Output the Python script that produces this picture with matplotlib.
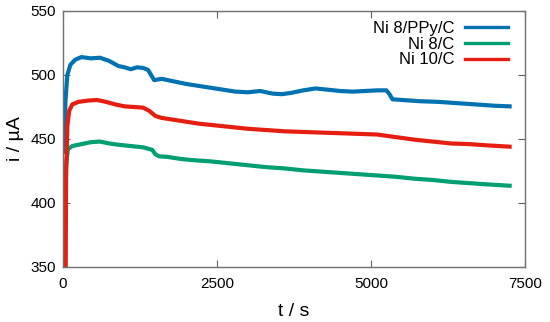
import matplotlib
matplotlib.use("Agg")
import matplotlib.pyplot as plt

plt.rcParams['font.family'] = ['Liberation Sans', 'DejaVu Sans']

# Ni 8/PPy/C
t_blue = [20, 40, 70, 120, 200, 300, 450, 600, 750, 900, 1000, 1100, 1200, 1300, 1380, 1430, 1480,
          1600, 1800, 2000, 2200, 2400, 2600, 2800, 3000, 3200, 3400, 3550, 3700, 3900, 4100, 4300,
          4500, 4700, 4900, 5100, 5250, 5300, 5350, 5500, 5800, 6100, 6400, 6700, 7000, 7250]
i_blue = [440, 480, 500, 508, 512, 514, 513, 513.5, 511, 507, 506, 504.5, 506, 505.5, 504, 500, 496,
          497, 495, 493, 491.5, 490, 488.5, 487, 486.5, 487.5, 485.5, 485, 486, 488, 489.5, 488.5,
          487.5, 487, 487.5, 488, 488, 485, 481, 480.5, 479.5, 479, 478, 477, 476, 475.5]

# Ni 8/C
t_green = [30, 50, 80, 150, 300, 450, 600, 750, 900, 1100, 1300, 1450, 1500, 1560, 1700, 1900, 2100,
           2400, 2700, 3000, 3300, 3600, 3900, 4200, 4500, 4800, 5100, 5400, 5700, 6000, 6300, 6600,
           6900, 7250]
i_green = [400, 430, 442, 444.5, 446, 447.5, 448, 446.5, 445.5, 444.5, 443.5, 441.5, 438, 436.5, 436,
           434.5, 433.5, 432.5, 431, 429.5, 428, 427, 425.5, 424.5, 423.5, 422.5, 421.5, 420.5, 419,
           418, 416.5, 415.5, 414.5, 413.5]

# Ni 10/C
t_red = [40, 50, 70, 100, 150, 250, 400, 550, 700, 850, 1000, 1150, 1300, 1400, 1500, 1600, 1800,
         2000, 2200, 2400, 2700, 3000, 3300, 3600, 3900, 4200, 4500, 4800, 5100, 5400, 5700, 6000,
         6300, 6600, 6900, 7250]
i_red = [300, 420, 460, 472, 477, 479, 480, 480.5, 479, 477, 475.5, 475, 474.5, 472, 468, 466.5, 465,
         463.5, 462, 461, 459.5, 458, 457, 456, 455.5, 455, 454.5, 454, 453.5, 451.5, 449.5, 448,
         446.5, 446, 445, 444]

labels = ['Ni 8/PPy/C', 'Ni 8/C', 'Ni 10/C']
colors = ['#0072b2', '#009e73', '#e51e10']
x_ticks = [0, 2500, 5000, 7500]
y_ticks = [350, 400, 450, 500, 550]

fig = plt.figure(figsize=(5.5, 3.22), dpi=100)
ax = fig.add_axes([63/550, 55/322, 462/550, 256/322])

ax.plot(t_blue, i_blue, color=colors[0], lw=3, label=labels[0])
ax.plot(t_green, i_green, color=colors[1], lw=3, label=labels[1])
ax.plot(t_red, i_red, color=colors[2], lw=3, label=labels[2])

ax.set_xlim(0, 7500)
ax.set_ylim(350, 550)
ax.set_xticks(x_ticks)
ax.set_yticks(y_ticks)
ax.tick_params(direction='in', length=5, width=0.8, color='#606060', top=True, right=True,
               labelsize=11)
ax.tick_params(axis='x', pad=7)
ax.tick_params(axis='y', pad=5)
for s in ax.spines.values():
    s.set_color('#707070')
    s.set_linewidth(1.0)

ax.set_xlabel('t / s', fontsize=14, labelpad=8.5)
ax.set_ylabel('i / µA', fontsize=14, labelpad=4.5)

leg = ax.legend(loc='upper right', bbox_to_anchor=(0.963, 0.962), frameon=False, markerfirst=False,
                fontsize=12, handlelength=2.6, handletextpad=0.6, labelspacing=0.05,
                borderpad=0, borderaxespad=0)
for h in leg.get_lines():
    h.set_linewidth(2.4)

fig.savefig('out.png', dpi=100)
